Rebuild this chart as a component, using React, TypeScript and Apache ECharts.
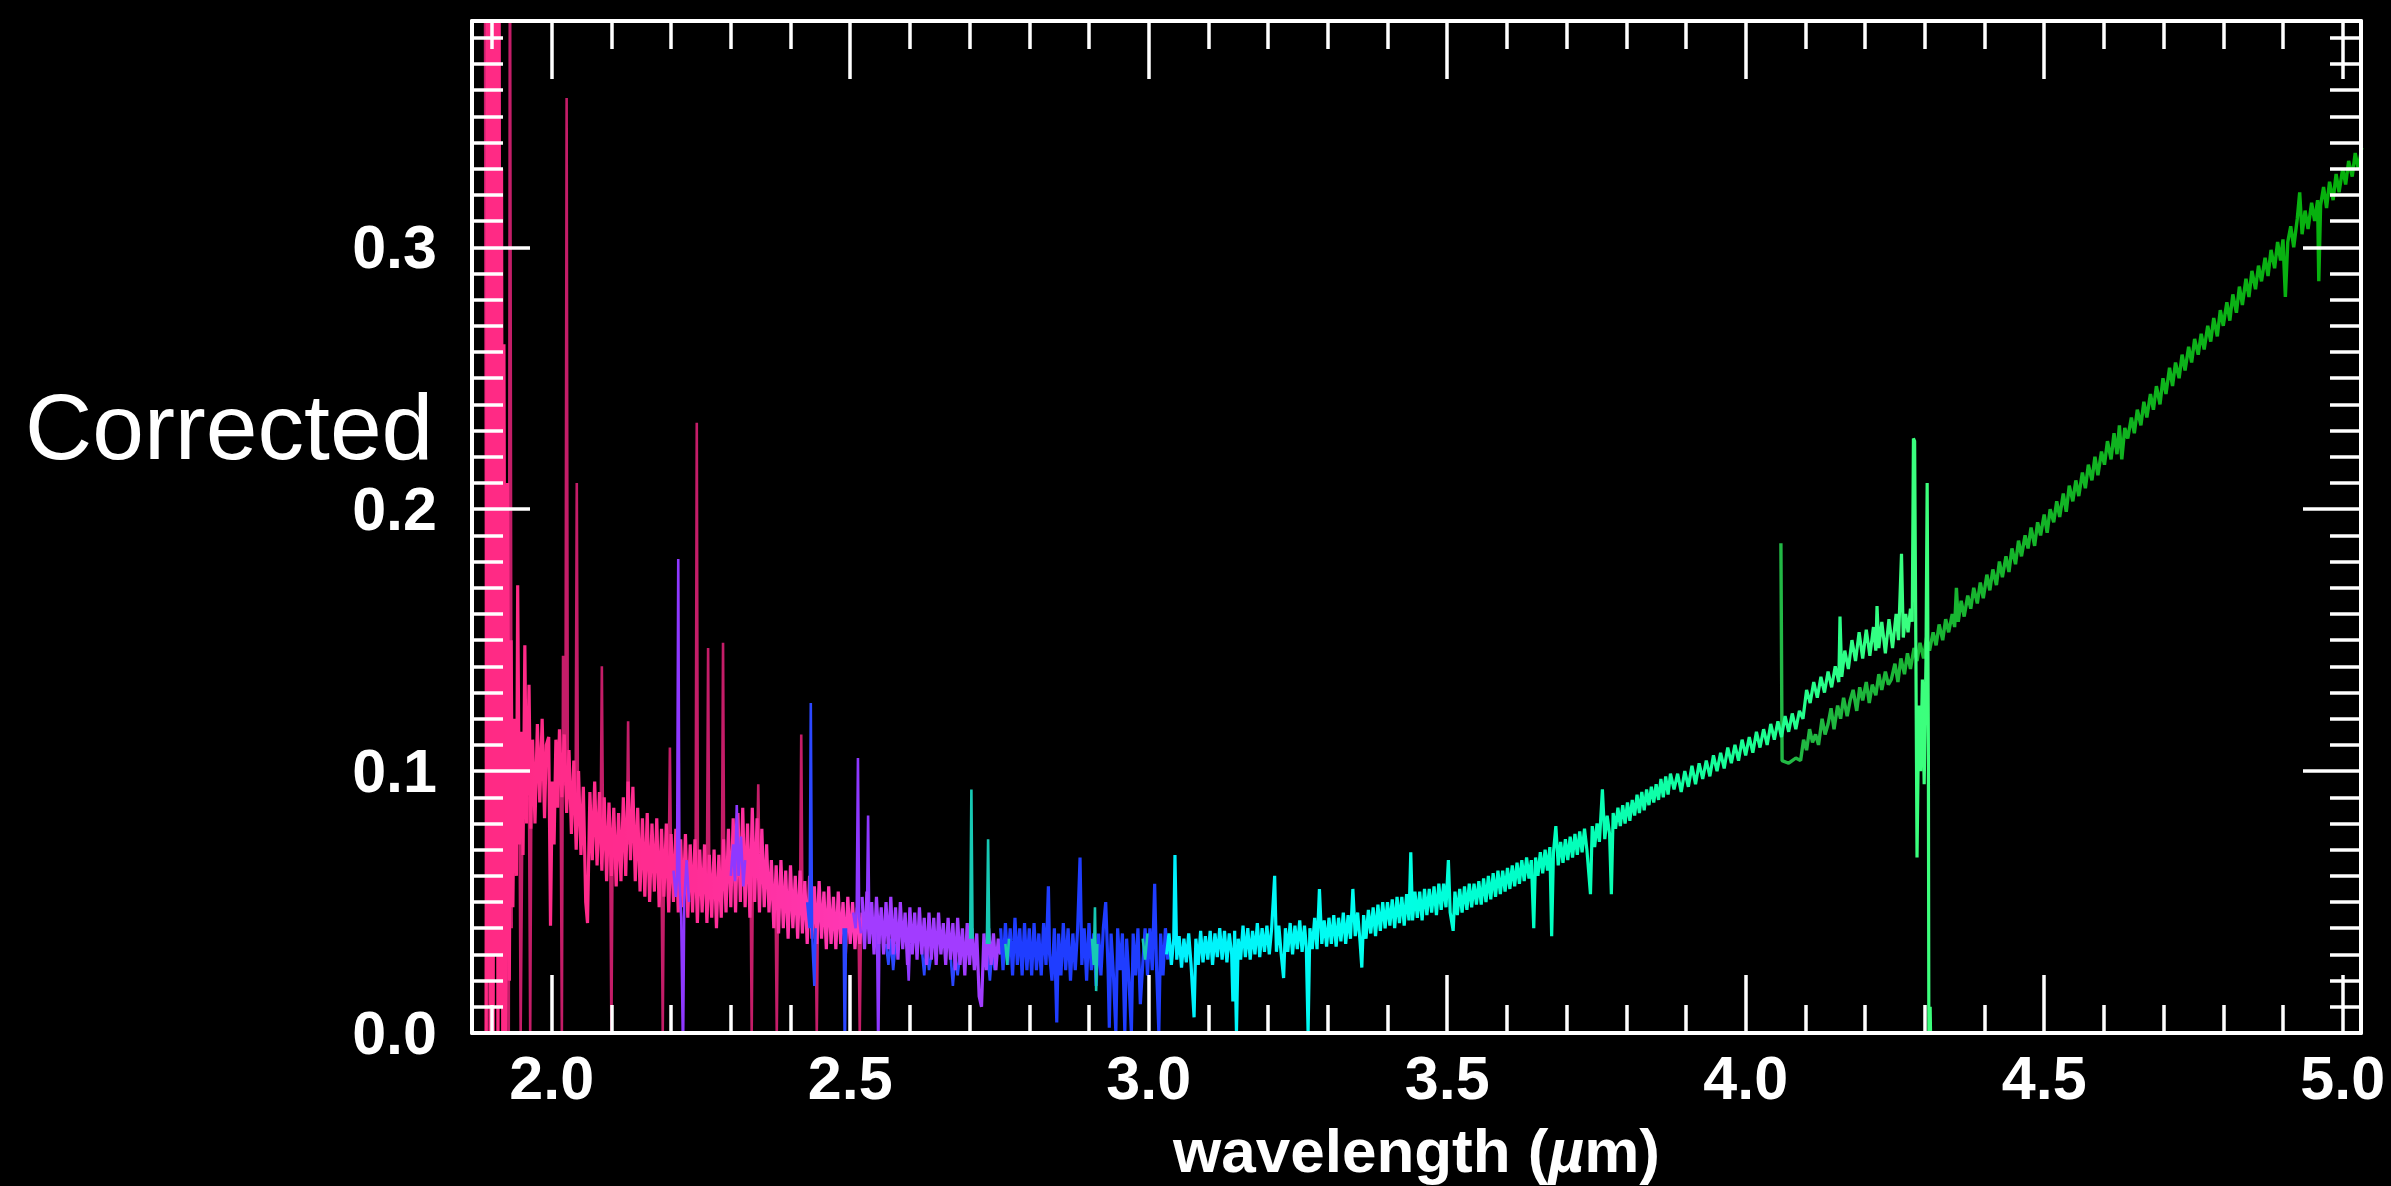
import React, { useEffect, useRef } from "react";
import * as echarts from "echarts";

// Axis ranges (wavelength in µm, corrected flux)
const X_MIN = 1.8665;
const X_MAX = 5.0307;
const Y_MIN = 0;
const Y_MAX = 0.3864;

// Labelled major ticks
const xMajorTicks = [2.0, 2.5, 3.0, 3.5, 4.0, 4.5, 5.0];
const yMajorTicks = [0.0, 0.1, 0.2, 0.3];

const yTitle = "Corrected";
const xTitle = "wavelength ({mu|µ}m)";

// null marks a break between separate pieces of a trace
const N = null;

// Short-wavelength segment, 1.89–2.52 µm (pink)
const pinkTrace: (number | null)[][] = [
  [1.890,-0.010],[1.892,0.400],[1.894,0.020],[1.896,0.420],[1.898,-0.010],[1.900,0.395],[1.902,0.000],[1.904,0.410],
  [1.906,0.030],[1.908,0.390],[1.910,-0.020],[1.912,0.400],[1.914,0.010],[1.916,0.330],[1.918,-0.010],[1.920,0.263],
  [1.923,0.000],[1.926,0.210],[1.929,0.020],[1.932,0.150],[1.935,0.048],[1.938,0.120],[1.941,0.060],[1.943,0.171],
  [1.946,0.072],[1.949,0.115],[1.952,0.068],[1.955,0.148],[1.958,0.080],[1.960,0.104],[1.962,0.133],[1.965,0.078],
  [1.968,0.112],[1.972,0.080],[1.976,0.118],[1.980,0.088],[1.984,0.120],[1.988,0.082],[1.991,0.110],[1.995,0.113],
  [1.998,0.041],[2.001,0.096],[2.004,0.072],[2.007,0.112],[2.010,0.086],[2.013,0.116],[2.017,0.090],[2.021,0.114],
  [2.025,0.084],[2.029,0.108],[2.033,0.076],[2.037,0.104],[2.041,0.070],[2.045,0.100],[2.049,0.068],[2.053,0.094],
  [2.057,0.050],[2.060,0.042],[2.064,0.092],[2.068,0.066],[2.072,0.096],[2.076,0.064],[2.080,0.092],[2.084,0.062],
  [2.088,0.090],[2.092,0.058],[2.096,0.088],[2.100,0.060],[2.104,0.086],[2.108,0.056],[2.112,0.084],[2.116,0.058],
  [2.120,0.090],[2.124,0.060],[2.128,0.096],[2.132,0.066],[2.136,0.094],[2.140,0.058],[2.144,0.086],[2.148,0.054],
  [2.152,0.082],[2.156,0.052],[2.160,0.084],[2.164,0.050],[2.168,0.080],[2.172,0.054],[2.176,0.082],[2.180,0.048],
  [2.184,0.078],[2.188,0.052],[2.192,0.080],[2.196,0.046],[2.200,0.076],[2.204,0.050],[2.208,0.078],[2.212,0.046],
  [2.216,0.074],[2.220,0.048],[2.224,0.076],[2.228,0.044],[2.232,0.072],[2.236,0.046],[2.240,0.074],[2.244,0.042],
  [2.248,0.070],[2.252,0.046],[2.256,0.072],[2.260,0.042],[2.264,0.068],[2.268,0.044],[2.272,0.070],[2.276,0.040],
  [2.280,0.068],[2.284,0.044],[2.288,0.074],[2.292,0.046],[2.296,0.078],[2.300,0.048],[2.304,0.082],[2.308,0.046],
  [2.312,0.084],[2.316,0.050],[2.320,0.086],[2.324,0.048],[2.328,0.080],[2.332,0.044],[2.336,0.086],[2.340,0.050],
  [2.344,0.082],[2.348,0.046],[2.352,0.078],[2.356,0.048],[2.360,0.072],[2.364,0.046],[2.368,0.066],[2.372,0.040],
  [2.376,0.064],[2.380,0.038],[2.384,0.066],[2.388,0.040],[2.392,0.062],[2.396,0.036],[2.400,0.064],[2.404,0.040],
  [2.408,0.060],[2.412,0.036],[2.416,0.062],[2.420,0.038],[2.424,0.058],[2.428,0.034],[2.432,0.060],[2.436,0.036],
  [2.440,0.056],[2.444,0.034],[2.448,0.058],[2.452,0.036],[2.456,0.054],[2.460,0.032],[2.464,0.056],[2.468,0.034],
  [2.472,0.052],[2.476,0.032],[2.480,0.054],[2.484,0.034],[2.488,0.050],[2.492,0.030],[2.496,0.052],[2.500,0.034],
  [2.504,0.050],[2.508,0.032],[2.512,0.048],[2.516,0.034],[2.520,0.046],
];

// Overlapping exposure in the pink range: spikes and dropouts (dark pink)
const darkPinkTrace: (number | null)[][] = [
  [1.888,0.450],[1.891,-0.020],[1.893,0.450],[1.896,-0.020],[1.899,0.120],[1.901,N],
  [1.926,0.100],[1.928,-0.020],[1.930,0.450],[1.933,0.040],[1.935,N],
  [1.946,0.090],[1.948,0.000],[1.951,0.085],[1.953,N],
  [1.962,0.090],[1.964,0.000],[1.966,0.095],[1.968,N],
  [2.015,0.095],[2.017,0.000],[2.019,0.144],[2.021,0.095],[2.023,0.095],[2.025,0.357],[2.027,0.090],[2.029,N],
  [2.040,0.085],[2.042,0.210],[2.044,0.082],[2.046,N],
  [2.082,0.078],[2.084,0.140],[2.086,0.075],[2.088,N],
  [2.098,0.072],[2.100,0.000],[2.102,0.072],[2.104,N],
  [2.126,0.072],[2.128,0.119],[2.130,0.072],[2.132,N],
  [2.184,0.064],[2.186,0.000],[2.188,0.064],[2.190,N],
  [2.196,0.062],[2.198,0.109],[2.200,0.062],[2.202,N],
  [2.241,0.058],[2.243,0.233],[2.245,0.058],[2.247,N],
  [2.260,0.056],[2.262,0.147],[2.264,0.056],[2.266,N],
  [2.285,0.056],[2.287,0.149],[2.289,0.058],[2.291,N],
  [2.333,0.064],[2.335,0.000],[2.337,0.064],[2.339,N],
  [2.344,0.064],[2.346,0.095],[2.348,0.062],[2.350,N],
  [2.375,0.052],[2.377,0.000],[2.379,0.052],[2.381,N],
  [2.416,0.049],[2.418,0.114],[2.420,0.048],[2.422,N],
  [2.442,0.046],[2.444,0.000],[2.446,0.046],[2.448,N],
  [2.514,0.040],[2.516,0.000],[2.518,0.040],
];

// Violet pieces overlapping 2.20–2.60 µm
const violetOverlap: (number | null)[][] = [
  [2.204,0.062],[2.208,0.052],[2.210,0.060],[2.212,0.181],[2.214,0.058],[2.217,0.044],[2.220,-0.010],[2.222,0.050],
  [2.226,0.066],[2.230,0.050],[2.232,N],
  [2.300,0.060],[2.304,0.072],[2.307,0.058],[2.310,0.087],[2.313,0.060],[2.317,0.075],[2.321,0.056],[2.324,0.066],[2.326,N],
  [2.505,0.046],[2.509,0.040],[2.511,0.048],[2.513,0.105],[2.515,0.044],[2.518,0.038],[2.520,N],
  [2.528,0.042],[2.530,0.083],[2.532,0.040],[2.534,N],
  [2.545,0.040],[2.547,-0.010],[2.549,0.040],[2.551,N],
  [2.596,0.030],[2.598,0.020],[2.600,0.034],
];

// Blue pieces overlapping 2.43–2.75 µm
const blueOverlap: (number | null)[][] = [
  [2.428,0.050],[2.432,0.040],[2.434,0.126],[2.436,0.040],[2.438,0.028],[2.440,0.018],[2.442,0.040],[2.444,N],
  [2.489,0.040],[2.491,-0.010],[2.493,0.040],[2.495,N],
  [2.560,0.034],[2.564,0.026],[2.568,0.036],[2.572,0.024],[2.576,0.034],[2.578,N],
  [2.620,0.032],[2.624,0.022],[2.628,0.034],[2.632,0.024],[2.636,0.030],[2.638,N],
  [2.668,0.030],[2.672,0.018],[2.676,0.030],[2.680,0.022],[2.684,0.030],[2.686,N],
  [2.730,0.030],[2.734,0.020],[2.738,0.032],[2.742,0.024],[2.746,0.032],
];

// Violet segment, 2.52–2.75 µm
const violetTrace: (number | null)[][] = [
  [2.520,0.052],[2.524,0.032],[2.528,0.054],[2.532,0.034],[2.536,0.050],[2.540,0.030],[2.544,0.052],[2.548,0.034],
  [2.552,0.048],[2.556,0.030],[2.560,0.050],[2.564,0.032],[2.568,0.052],[2.572,0.030],[2.576,0.048],[2.580,0.028],
  [2.584,0.050],[2.588,0.032],[2.592,0.046],[2.596,0.026],[2.600,0.048],[2.604,0.030],[2.608,0.046],[2.612,0.028],
  [2.616,0.048],[2.620,0.030],[2.624,0.044],[2.628,0.026],[2.632,0.046],[2.636,0.028],[2.640,0.044],[2.644,0.026],
  [2.648,0.046],[2.652,0.030],[2.656,0.042],[2.660,0.026],[2.664,0.044],[2.668,0.028],[2.672,0.042],[2.676,0.024],
  [2.680,0.044],[2.684,0.026],[2.688,0.040],[2.692,0.022],[2.696,0.042],[2.700,0.026],[2.704,0.040],[2.708,0.024],
  [2.712,0.038],[2.716,0.014],[2.720,0.010],[2.724,0.038],[2.728,0.024],[2.732,0.040],[2.736,0.026],[2.740,0.038],
  [2.744,0.024],[2.748,0.036],[2.752,0.030],
];

// Blue segment, 2.75–3.03 µm
const blueTrace: (number | null)[][] = [
  [2.752,0.040],[2.756,0.024],[2.760,0.042],[2.764,0.026],[2.768,0.040],[2.772,0.022],[2.776,0.044],[2.780,0.026],
  [2.784,0.040],[2.788,0.022],[2.792,0.042],[2.796,0.024],[2.800,0.040],[2.804,0.022],[2.808,0.042],[2.812,0.024],
  [2.816,0.038],[2.820,0.022],[2.824,0.042],[2.828,0.026],[2.832,0.056],[2.834,0.030],[2.838,0.020],[2.842,0.040],
  [2.846,0.004],[2.849,0.038],[2.853,0.022],[2.857,0.042],[2.861,0.024],[2.865,0.040],[2.869,0.020],[2.873,0.038],
  [2.877,0.024],[2.881,0.040],[2.885,0.067],[2.888,0.026],[2.892,0.040],[2.896,0.020],[2.900,0.042],[2.904,0.024],
  [2.908,0.038],[2.912,0.018],[2.916,0.038],[2.920,0.022],[2.924,0.040],[2.928,0.050],[2.932,0.024],[2.934,0.002],
  [2.937,0.038],[2.941,0.022],[2.945,0.000],[2.948,0.040],[2.952,0.024],[2.956,0.038],[2.960,0.000],[2.963,0.036],
  [2.967,0.020],[2.971,0.000],[2.974,0.038],[2.978,0.022],[2.982,0.040],[2.986,0.011],[2.990,0.026],[2.994,0.040],
  [2.998,0.022],[3.002,0.040],[3.006,0.024],[3.010,0.057],[3.013,0.026],[3.017,0.000],[3.020,0.038],[3.024,0.022],
  [3.028,0.040],[3.032,0.028],
];

// Teal pieces overlapping 2.70–3.00 µm
const tealOverlap: (number | null)[][] = [
  [2.701,0.036],[2.703,0.093],[2.705,0.036],[2.707,N],
  [2.729,0.034],[2.731,0.074],[2.733,0.034],[2.735,N],
  [2.760,0.034],[2.763,0.026],[2.766,0.036],[2.768,N],
  [2.905,0.036],[2.908,0.026],[2.910,0.048],[2.912,0.016],[2.914,0.034],[2.916,N],
  [2.990,0.036],[2.994,0.028],[2.998,0.038],
];

// Long-wavelength segment, 3.03–4.31 µm (cyan to light green)
const cyanGreenTrace: (number | null)[][] = [
  [3.030,0.030],[3.034,0.038],[3.038,0.026],[3.042,0.036],[3.044,0.068],[3.047,0.028],[3.051,0.037],[3.055,0.025],
  [3.059,0.036],[3.063,0.027],[3.067,0.038],[3.071,0.026],[3.076,0.006],[3.079,0.036],[3.083,0.026],[3.087,0.039],
  [3.091,0.027],[3.095,0.037],[3.099,0.028],[3.103,0.039],[3.107,0.026],[3.111,0.038],[3.115,0.029],[3.119,0.040],
  [3.123,0.028],[3.127,0.039],[3.131,0.027],[3.135,0.038],[3.139,0.030],[3.141,0.012],[3.144,0.039],[3.147,0.000],
  [3.150,0.036],[3.154,0.028],[3.158,0.041],[3.162,0.029],[3.166,0.040],[3.170,0.028],[3.174,0.039],[3.178,0.030],
  [3.182,0.042],[3.186,0.029],[3.190,0.040],[3.194,0.031],[3.198,0.041],[3.202,0.030],[3.206,0.040],[3.211,0.060],
  [3.214,0.031],[3.218,0.041],[3.222,0.030],[3.226,0.021],[3.229,0.040],[3.233,0.031],[3.237,0.042],[3.241,0.030],
  [3.245,0.041],[3.249,0.032],[3.253,0.043],[3.257,0.031],[3.261,0.041],[3.264,0.033],[3.267,0.000],[3.270,0.040],
  [3.274,0.032],[3.278,0.044],[3.282,0.032],[3.286,0.055],[3.290,0.034],[3.294,0.043],[3.298,0.033],[3.302,0.044],
  [3.306,0.034],[3.310,0.045],[3.314,0.033],[3.318,0.044],[3.322,0.035],[3.326,0.046],[3.330,0.034],[3.334,0.045],
  [3.338,0.036],[3.342,0.055],[3.346,0.037],[3.350,0.046],[3.354,0.035],[3.357,0.025],[3.360,0.045],[3.364,0.036],
  [3.368,0.047],[3.372,0.038],[3.376,0.048],[3.380,0.037],[3.384,0.049],[3.388,0.039],[3.392,0.050],[3.396,0.040],
  [3.400,0.050],[3.404,0.041],[3.408,0.051],[3.412,0.040],[3.416,0.052],[3.420,0.042],[3.424,0.052],[3.428,0.041],
  [3.432,0.053],[3.436,0.043],[3.439,0.069],[3.442,0.043],[3.446,0.054],[3.450,0.044],[3.454,0.054],[3.458,0.043],
  [3.462,0.055],[3.466,0.045],[3.470,0.055],[3.474,0.046],[3.478,0.056],[3.482,0.045],[3.486,0.057],[3.490,0.047],
  [3.494,0.057],[3.498,0.048],[3.502,0.066],[3.505,0.046],[3.510,0.039],[3.513,0.054],[3.517,0.045],[3.521,0.055],
  [3.525,0.046],[3.529,0.056],[3.533,0.047],[3.537,0.057],[3.541,0.048],[3.545,0.057],[3.549,0.049],[3.553,0.058],
  [3.557,0.049],[3.561,0.059],[3.565,0.050],[3.569,0.060],[3.573,0.051],[3.577,0.061],[3.581,0.052],[3.585,0.062],
  [3.589,0.053],[3.593,0.062],[3.597,0.054],[3.601,0.063],[3.605,0.055],[3.609,0.064],[3.613,0.056],[3.617,0.065],
  [3.621,0.057],[3.625,0.066],[3.629,0.058],[3.633,0.067],[3.637,0.059],[3.641,0.066],[3.645,0.040],[3.648,0.067],
  [3.652,0.060],[3.656,0.069],[3.660,0.061],[3.664,0.070],[3.668,0.062],[3.672,0.071],[3.675,0.037],[3.678,0.069],
  [3.682,0.079],[3.686,0.064],[3.690,0.073],[3.694,0.065],[3.698,0.074],[3.702,0.066],[3.706,0.075],[3.710,0.067],
  [3.714,0.076],[3.718,0.068],[3.722,0.077],[3.726,0.069],[3.730,0.078],[3.734,0.070],[3.740,0.053],[3.743,0.079],
  [3.747,0.071],[3.751,0.080],[3.755,0.073],[3.760,0.093],[3.764,0.074],[3.768,0.083],[3.772,0.076],[3.775,0.053],
  [3.778,0.084],[3.782,0.078],[3.786,0.086],[3.790,0.079],[3.794,0.087],[3.798,0.080],[3.802,0.088],[3.806,0.081],
  [3.810,0.089],[3.814,0.083],[3.818,0.091],[3.822,0.084],[3.826,0.092],[3.830,0.085],[3.834,0.093],[3.838,0.087],
  [3.842,0.094],[3.846,0.088],[3.850,0.095],[3.854,0.089],[3.858,0.097],[3.862,0.090],[3.866,0.098],[3.870,0.091],
  [3.874,0.099],[3.880,0.093],[3.886,0.099],[3.892,0.092],[3.898,0.100],[3.904,0.094],[3.910,0.102],[3.916,0.095],
  [3.922,0.103],[3.928,0.097],[3.934,0.104],[3.940,0.098],[3.946,0.106],[3.952,0.100],[3.958,0.107],[3.964,0.101],
  [3.970,0.109],[3.976,0.103],[3.982,0.110],[3.988,0.104],[3.994,0.112],[4.000,0.106],[4.006,0.113],[4.012,0.107],
  [4.018,0.115],[4.024,0.109],[4.030,0.116],[4.036,0.110],[4.042,0.118],[4.048,0.112],[4.054,0.119],[4.060,0.113],
  [4.066,0.121],[4.072,0.115],[4.078,0.122],[4.084,0.116],[4.090,0.123],[4.096,0.120],[4.102,0.131],[4.108,0.126],
  [4.114,0.134],[4.120,0.128],[4.126,0.136],[4.132,0.130],[4.138,0.138],[4.144,0.132],[4.150,0.140],[4.156,0.134],
  [4.158,0.159],[4.161,0.136],[4.166,0.146],[4.172,0.139],[4.178,0.150],[4.184,0.142],[4.190,0.153],[4.196,0.143],
  [4.202,0.154],[4.208,0.144],[4.214,0.155],[4.218,0.146],[4.220,0.163],[4.223,0.147],[4.228,0.157],[4.234,0.145],
  [4.240,0.158],[4.246,0.147],[4.252,0.160],[4.256,0.150],[4.261,0.183],[4.264,0.151],[4.268,0.160],[4.272,0.153],
  [4.276,0.162],[4.279,0.157],[4.281,0.227],[4.283,0.226],[4.285,0.150],[4.287,0.067],[4.290,0.125],[4.293,0.100],
  [4.296,0.135],[4.299,0.095],[4.302,0.142],[4.304,0.210],[4.306,0.110],[4.307,-0.020],[4.309,0.010],[4.311,-0.020],
];

// Long-wavelength second detector, 4.06–5.03 µm (green)
const greenTrace: (number | null)[][] = [
  [4.059,0.187],[4.061,0.104],[4.072,0.103],[4.084,0.105],[4.092,0.104],[4.097,0.112],[4.102,0.108],[4.107,0.116],
  [4.112,0.111],[4.117,0.114],[4.122,0.110],[4.128,0.120],[4.133,0.114],[4.138,0.118],[4.143,0.124],[4.148,0.116],
  [4.154,0.125],[4.159,0.120],[4.164,0.128],[4.170,0.121],[4.175,0.127],[4.180,0.131],[4.186,0.123],[4.191,0.132],
  [4.196,0.127],[4.202,0.134],[4.207,0.126],[4.212,0.133],[4.218,0.129],[4.223,0.137],[4.228,0.131],[4.234,0.138],
  [4.239,0.133],[4.244,0.135],[4.250,0.141],[4.255,0.134],[4.260,0.143],[4.266,0.137],[4.271,0.145],[4.276,0.139],
  [4.282,0.147],[4.287,0.142],[4.292,0.149],[4.298,0.143],[4.303,0.151],[4.308,0.146],[4.314,0.153],[4.319,0.148],
  [4.324,0.156],[4.330,0.150],[4.335,0.158],[4.340,0.153],[4.346,0.160],[4.350,0.155],[4.353,0.170],[4.356,0.157],
  [4.361,0.165],[4.366,0.159],[4.372,0.167],[4.377,0.162],[4.382,0.170],[4.388,0.164],[4.393,0.172],[4.398,0.166],
  [4.404,0.175],[4.409,0.169],[4.414,0.177],[4.420,0.171],[4.425,0.180],[4.430,0.174],[4.436,0.182],[4.441,0.176],
  [4.446,0.185],[4.452,0.179],[4.457,0.188],[4.462,0.182],[4.468,0.190],[4.473,0.185],[4.478,0.193],[4.484,0.186],
  [4.489,0.195],[4.494,0.190],[4.500,0.198],[4.505,0.191],[4.510,0.200],[4.516,0.195],[4.521,0.203],[4.526,0.197],
  [4.532,0.206],[4.537,0.199],[4.542,0.209],[4.548,0.203],[4.553,0.211],[4.558,0.205],[4.564,0.214],[4.569,0.208],
  [4.574,0.217],[4.580,0.211],[4.585,0.220],[4.590,0.213],[4.596,0.222],[4.601,0.217],[4.606,0.226],[4.612,0.219],
  [4.617,0.229],[4.622,0.221],[4.626,0.232],[4.630,0.219],[4.635,0.231],[4.640,0.227],[4.646,0.235],[4.651,0.229],
  [4.656,0.238],[4.662,0.232],[4.667,0.241],[4.672,0.235],[4.678,0.244],[4.683,0.238],[4.688,0.247],[4.694,0.240],
  [4.699,0.250],[4.704,0.244],[4.710,0.254],[4.715,0.247],[4.720,0.256],[4.726,0.250],[4.731,0.259],[4.736,0.253],
  [4.742,0.262],[4.747,0.256],[4.752,0.265],[4.758,0.259],[4.763,0.267],[4.768,0.261],[4.774,0.270],[4.779,0.264],
  [4.784,0.273],[4.790,0.266],[4.795,0.276],[4.800,0.270],[4.806,0.279],[4.811,0.272],[4.816,0.282],[4.822,0.275],
  [4.827,0.285],[4.832,0.278],[4.838,0.288],[4.843,0.281],[4.848,0.291],[4.854,0.284],[4.859,0.293],[4.864,0.287],
  [4.870,0.296],[4.875,0.289],[4.880,0.299],[4.886,0.292],[4.891,0.302],[4.896,0.295],[4.900,0.303],[4.904,0.281],
  [4.908,0.302],[4.913,0.308],[4.918,0.300],[4.924,0.311],[4.928,0.321],[4.932,0.305],[4.937,0.314],[4.942,0.307],
  [4.948,0.317],[4.953,0.310],[4.958,0.318],[4.960,0.287],[4.963,0.316],[4.968,0.323],[4.973,0.315],[4.978,0.325],
  [4.984,0.318],[4.989,0.328],[4.994,0.321],[5.000,0.330],[5.005,0.324],[5.010,0.333],[5.016,0.327],[5.021,0.336],
  [5.026,0.330],[5.032,0.338],
];

const FONT = "'Liberation Sans', Arial, Helvetica, sans-serif";
const WHITE = "#ffffff";

const isMajor = (v: number, list: number[]) => list.some((t) => Math.abs(t - v) < 1e-6);

function frameAxis(position: string, isX: boolean, withLabels: boolean) {
  const majors = isX ? xMajorTicks : yMajorTicks;
  return {
    type: "value",
    position,
    min: isX ? X_MIN : Y_MIN,
    max: isX ? X_MAX : Y_MAX,
    ...(isX ? { splitNumber: 6 } : { interval: 0.1 }),
    z: 10,
    axisLine: { show: true, onZero: false, lineStyle: { color: WHITE, width: 4 } },
    axisTick: { show: true, inside: true, length: 58, lineStyle: { color: WHITE, width: 3.5 } },
    minorTick: {
      show: true,
      splitNumber: isX ? 5 : 10,
      length: isX ? 28 : 31,
      lineStyle: { color: WHITE, width: 3.5 },
    },
    splitLine: { show: false },
    minorSplitLine: { show: false },
    axisLabel: {
      show: withLabels,
      color: WHITE,
      fontFamily: FONT,
      fontWeight: "bold",
      fontSize: 61,
      margin: isX ? 14 : 35,
      formatter: (v: number) => (isMajor(v, majors) ? v.toFixed(1) : ""),
    },
  };
}

// A plain line trace; colour may come from a visualMap instead
function trace(data: (number | null)[][], color: string | null, width: number, z: number) {
  const lineStyle: any = { width };
  if (color) lineStyle.color = color;
  return {
    type: "line",
    data,
    showSymbol: false,
    symbol: "none",
    silent: true,
    clip: true,
    connectNulls: false,
    z,
    lineStyle,
  };
}

export default function App() {
  const ref = useRef<HTMLDivElement>(null);

  useEffect(() => {
    document.body.style.margin = "0";
    document.body.style.background = "#000";
    const chart = echarts.init(ref.current!, null, { renderer: "svg" });

    const bottomX: any = frameAxis("bottom", true, true);
    bottomX.name = xTitle;
    bottomX.nameLocation = "middle";
    bottomX.nameGap = 86;
    bottomX.nameTextStyle = {
      color: WHITE,
      fontFamily: FONT,
      fontWeight: "bold",
      fontSize: 62,
      rich: {
        mu: { color: WHITE, fontFamily: FONT, fontWeight: "bold", fontStyle: "italic", fontSize: 62 },
      },
    };

    chart.setOption({
      animation: false,
      backgroundColor: "#000000",
      grid: { left: 472, right: 30, top: 21, bottom: 140, containLabel: false },
      xAxis: [bottomX, frameAxis("top", true, false)],
      yAxis: [frameAxis("left", false, true), frameAxis("right", false, false)],
      visualMap: [
        {
          type: "continuous", show: false, seriesIndex: 1, dimension: 0,
          min: 1.89, max: 2.52, inRange: { color: ["#ff2a84", "#ff2c92", "#ff38b6"] },
        },
        {
          type: "continuous", show: false, seriesIndex: 8, dimension: 0,
          min: 3.03, max: 4.31, inRange: { color: ["#00f0ff", "#00fff0", "#00ffc0", "#19ff95", "#3dff7c"] },
        },
        {
          type: "continuous", show: false, seriesIndex: 7, dimension: 0,
          min: 4.059, max: 5.032, inRange: { color: ["#22b845", "#12b424", "#05b00a"] },
        },
      ],
      graphic: [
        {
          type: "text",
          left: 25,
          top: 380,
          style: { text: yTitle, fill: WHITE, font: `93px ${FONT}`, lineHeight: 80 },
        },
      ],
      series: [
        trace(darkPinkTrace, "#c41d68", 2.6, 2),
        trace(pinkTrace, null, 3.2, 3),
        trace(violetOverlap, "#8e38ff", 2.6, 4),
        trace(blueOverlap, "#2b47ff", 2.6, 4),
        trace(violetTrace, "#a23cff", 3.2, 5),
        trace(blueTrace, "#1f3dff", 3.2, 5),
        trace(tealOverlap, "#17c9b4", 2.6, 6),
        trace(greenTrace, null, 3.4, 6),
        trace(cyanGreenTrace, null, 3.2, 7),
      ],
    });

    return () => chart.dispose();
  }, []);

  return <div ref={ref} style={{ width: 2391, height: 1186, background: "#000" }} />;
}
